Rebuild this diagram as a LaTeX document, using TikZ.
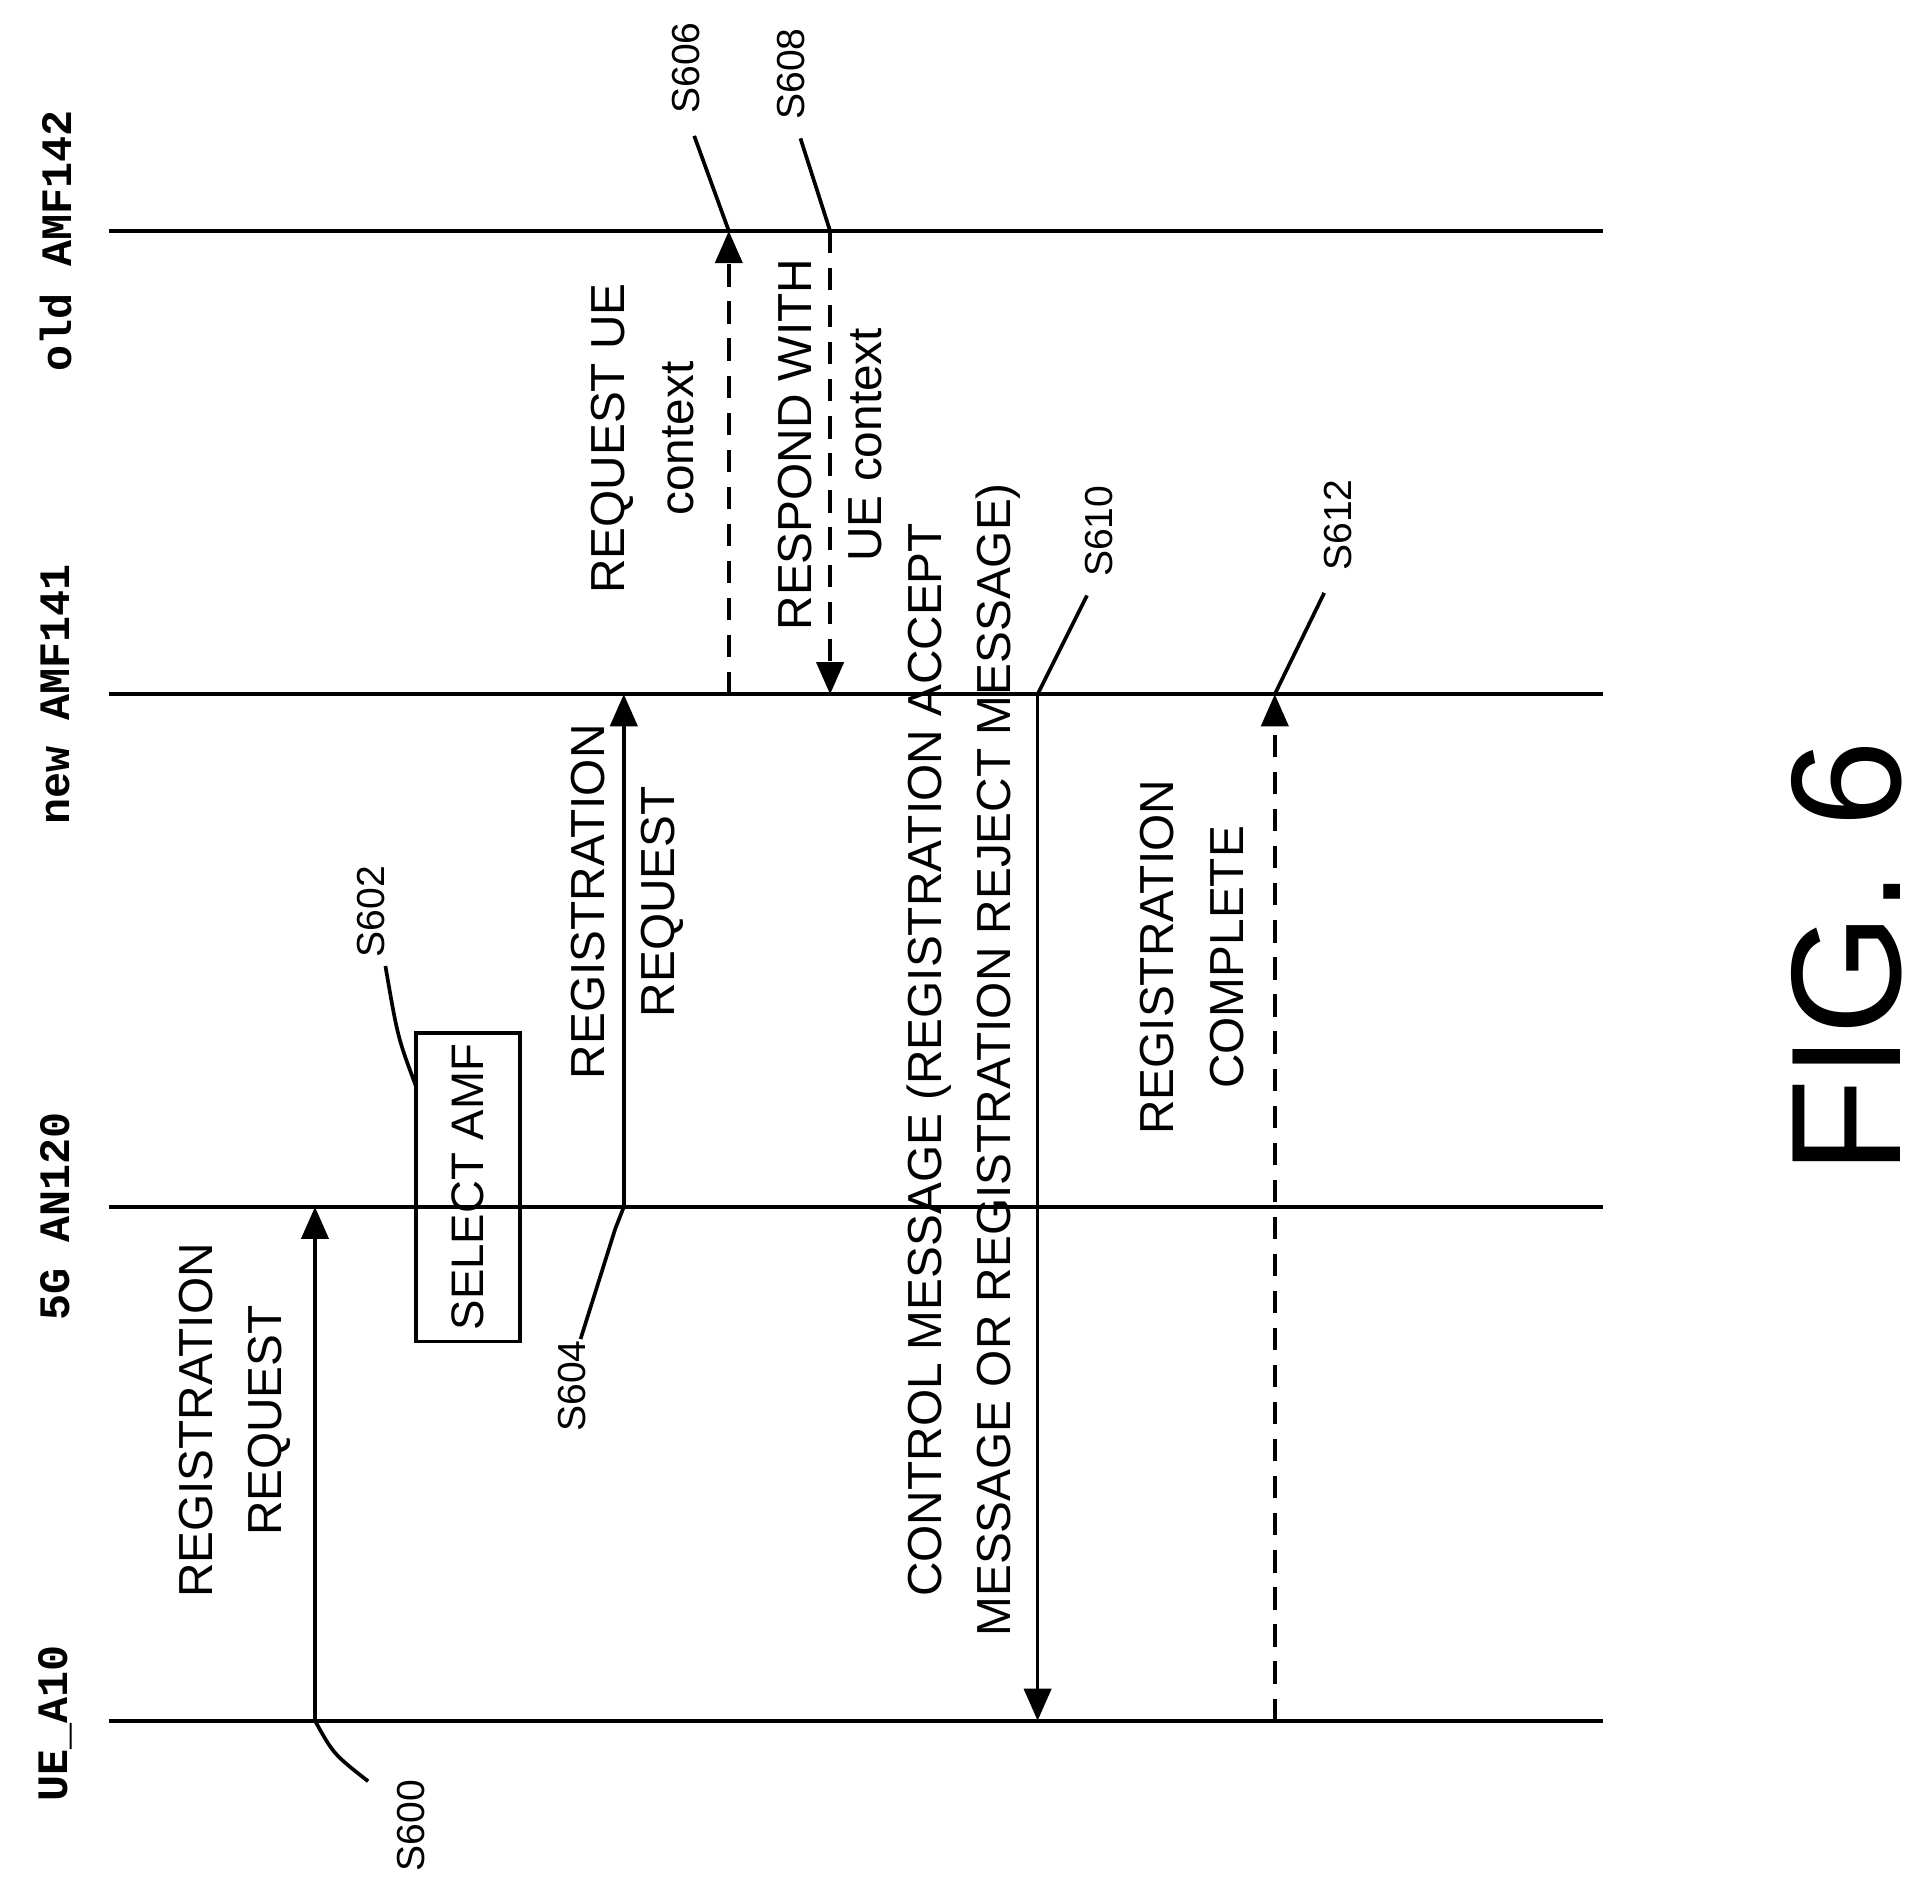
\documentclass[tikz,border=0pt]{standalone}
\usepackage{fontspec}
\setmainfont{Liberation Sans}
\newfontfamily\lifefont{Liberation Mono}
\usetikzlibrary{arrows.meta}
\begin{document}
\begin{tikzpicture}[x=0.1mm,y=-0.1mm,line width=0.85pt,
  lbl/.style={rotate=90,font=\lifefont\bfseries\fontsize{10}{12}\selectfont},
  msg/.style={rotate=90,align=center,font=\fontsize{11}{16}\selectfont},
  stp/.style={rotate=90,font=\fontsize{9}{11}\selectfont},
  arr/.style={-{Triangle[length=2.6mm,width=2.2mm]}},
  dsh/.style={dash pattern=on 1.8mm off 1.2mm}]
\useasboundingbox (0,0) rectangle (1560,1528);
% lifelines
\coordinate (o1) at (88,187);  \coordinate (o2) at (1298,187);
\coordinate (n1) at (88,562);  \coordinate (n2) at (1298,562);
\coordinate (a1) at (88,977);  \coordinate (a2) at (1298,977);
\coordinate (u1) at (88,1393); \coordinate (u2) at (1298,1393);
\draw (o1)--(o2); \draw (n1)--(n2); \draw (a1)--(a2); \draw (u1)--(u2);
\node[lbl] (lo) at (45,195) {old AMF142};
\node[lbl] (ln) at (45,562) {new AMF141};
\node[lbl] (la) at (45,985) {5G AN120};
\node[lbl] (lu) at (45,1395) {UE\_A10};
% S600
\coordinate (s600a) at (255,1393); \coordinate (s600b) at (255,977);
\draw[arr] (s600a)--(s600b);
\node[msg] (m600) at (190,1150) {REGISTRATION\\REQUEST};
\node[stp] (t600) at (333,1478) {S600};
\draw (298,1442) .. controls (270,1420) .. (s600a);
% S602
\node[draw,rotate=90,minimum width=25mm,minimum height=8.4mm,inner sep=0pt,font=\fontsize{10.5}{14}\selectfont] (box) at (379,961) {SELECT AMF};
\node[stp] (t602) at (300,738) {S602};
\draw (312,782) .. controls (322,840) .. (337,880);
% S604
\coordinate (s604a) at (505,977); \coordinate (s604b) at (505,562);
\draw[arr] (s604a)--(s604b);
\node[msg] (m604) at (508,730) {REGISTRATION\\REQUEST};
\node[stp] (t604) at (463,1122) {S604};
\draw (470,1084) -- (498,995) -- (s604a);
% S606
\coordinate (s606a) at (590,562); \coordinate (s606b) at (590,187);
\draw[arr,dsh] (s606a)--(s606b);
\node[msg] (m606) at (520,355) {REQUEST UE\\context};
\node[stp] (t606) at (555,55) {S606};
\draw (562,110) -- (s606b);
% S608
\coordinate (s608a) at (672,187); \coordinate (s608b) at (672,562);
\draw[arr,dsh] (s608a)--(s608b);
\node[msg] (m608) at (672,360) {RESPOND WITH\\UE context};
\node[stp] (t608) at (640,60) {S608};
\draw (648,112) -- (s608a);
% S610
\coordinate (s610a) at (840,562); \coordinate (s610b) at (840,1393);
\draw[arr] (s610a)--(s610b);
\node[msg] (m610) at (780,858) {CONTROL MESSAGE (REGISTRATION ACCEPT\\MESSAGE OR REGISTRATION REJECT MESSAGE)};
\node[stp] (t610) at (890,430) {S610};
\draw (880,482) -- (s610a);
% S612
\coordinate (s612a) at (1032,1393); \coordinate (s612b) at (1032,562);
\draw[arr,dsh] (s612a)--(s612b);
\node[msg] (m612) at (965,775) {REGISTRATION\\COMPLETE};
\node[stp] (t612) at (1083,425) {S612};
\draw (1072,480) -- (s612b);
% figure label
\node[rotate=90,font=\fontsize{36}{42}\selectfont] (fig) at (1495,775) {FIG. 6};
\end{tikzpicture}
\end{document}
